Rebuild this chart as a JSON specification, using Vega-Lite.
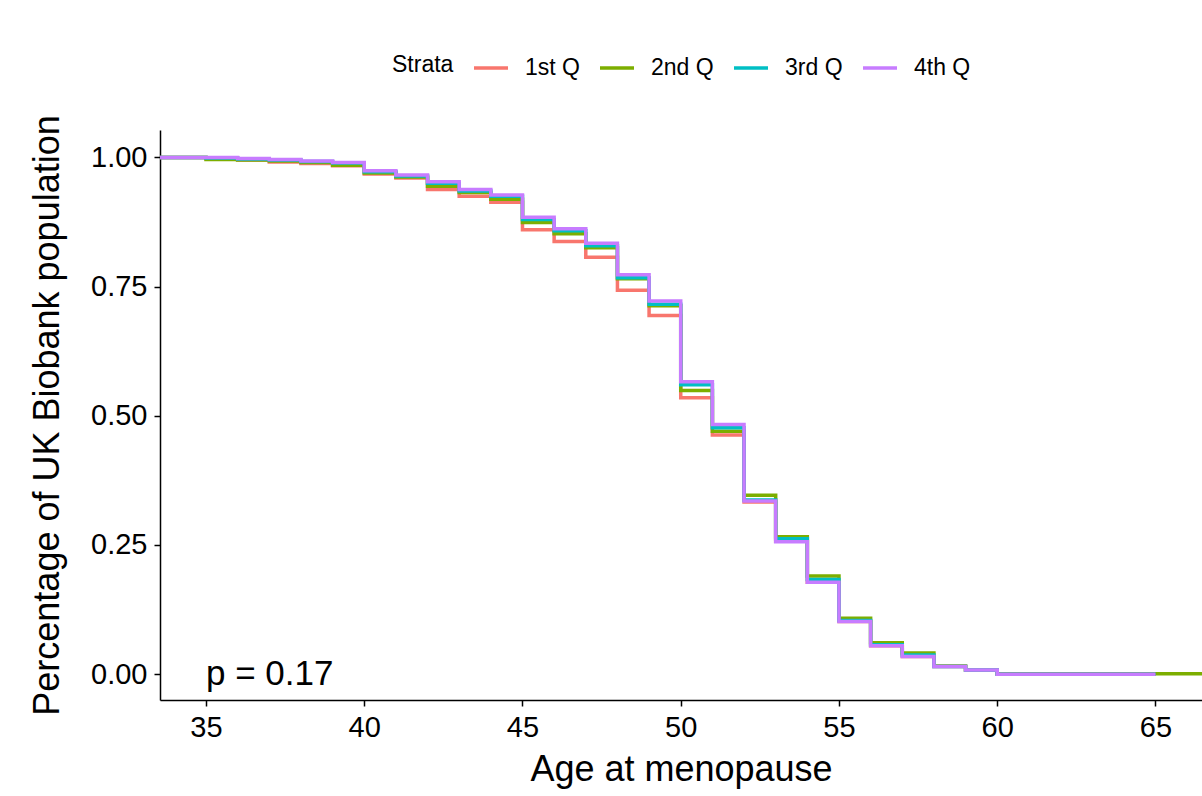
{
  "$schema": "https://vega.github.io/schema/vega-lite/v6.json",
  "width": 1042,
  "height": 570,
  "autosize": {"type": "none"},
  "padding": {"left": 160, "top": 130, "right": 0, "bottom": 96},
  "background": "white",
  "config": {
    "view": {"stroke": null},
    "font": "Liberation Sans",
    "axis": {
      "grid": false,
      "domainColor": "#000000",
      "domainWidth": 1.5,
      "tickColor": "#000000",
      "tickWidth": 1.5,
      "tickSize": 6,
      "labelColor": "#000000",
      "labelFont": "Liberation Sans",
      "labelFontSize": 29,
      "labelPadding": 7,
      "titleFont": "Liberation Sans",
      "titleFontSize": 36,
      "titleFontWeight": "normal",
      "titleColor": "#000000"
    }
  },
  "datasets": {
    "km": [
      {"age": 30, "surv": 1.0, "strata": "1st Q"},
      {"age": 35, "surv": 0.998, "strata": "1st Q"},
      {"age": 36, "surv": 0.995, "strata": "1st Q"},
      {"age": 37, "surv": 0.991, "strata": "1st Q"},
      {"age": 38, "surv": 0.988, "strata": "1st Q"},
      {"age": 39, "surv": 0.984, "strata": "1st Q"},
      {"age": 40, "surv": 0.968, "strata": "1st Q"},
      {"age": 41, "surv": 0.960, "strata": "1st Q"},
      {"age": 42, "surv": 0.938, "strata": "1st Q"},
      {"age": 43, "surv": 0.925, "strata": "1st Q"},
      {"age": 44, "surv": 0.913, "strata": "1st Q"},
      {"age": 45, "surv": 0.860, "strata": "1st Q"},
      {"age": 46, "surv": 0.837, "strata": "1st Q"},
      {"age": 47, "surv": 0.807, "strata": "1st Q"},
      {"age": 48, "surv": 0.743, "strata": "1st Q"},
      {"age": 49, "surv": 0.694, "strata": "1st Q"},
      {"age": 50, "surv": 0.535, "strata": "1st Q"},
      {"age": 51, "surv": 0.463, "strata": "1st Q"},
      {"age": 52, "surv": 0.333, "strata": "1st Q"},
      {"age": 53, "surv": 0.257, "strata": "1st Q"},
      {"age": 54, "surv": 0.178, "strata": "1st Q"},
      {"age": 55, "surv": 0.102, "strata": "1st Q"},
      {"age": 56, "surv": 0.055, "strata": "1st Q"},
      {"age": 57, "surv": 0.034, "strata": "1st Q"},
      {"age": 58, "surv": 0.015, "strata": "1st Q"},
      {"age": 59, "surv": 0.008, "strata": "1st Q"},
      {"age": 60, "surv": 0.0, "strata": "1st Q"},
      {"age": 65, "surv": 0.0, "strata": "1st Q"},
      {"age": 30, "surv": 1.0, "strata": "2nd Q"},
      {"age": 35, "surv": 0.996, "strata": "2nd Q"},
      {"age": 36, "surv": 0.995, "strata": "2nd Q"},
      {"age": 37, "surv": 0.993, "strata": "2nd Q"},
      {"age": 38, "surv": 0.990, "strata": "2nd Q"},
      {"age": 39, "surv": 0.985, "strata": "2nd Q"},
      {"age": 40, "surv": 0.970, "strata": "2nd Q"},
      {"age": 41, "surv": 0.962, "strata": "2nd Q"},
      {"age": 42, "surv": 0.944, "strata": "2nd Q"},
      {"age": 43, "surv": 0.932, "strata": "2nd Q"},
      {"age": 44, "surv": 0.919, "strata": "2nd Q"},
      {"age": 45, "surv": 0.874, "strata": "2nd Q"},
      {"age": 46, "surv": 0.852, "strata": "2nd Q"},
      {"age": 47, "surv": 0.825, "strata": "2nd Q"},
      {"age": 48, "surv": 0.765, "strata": "2nd Q"},
      {"age": 49, "surv": 0.713, "strata": "2nd Q"},
      {"age": 50, "surv": 0.549, "strata": "2nd Q"},
      {"age": 51, "surv": 0.470, "strata": "2nd Q"},
      {"age": 52, "surv": 0.346, "strata": "2nd Q"},
      {"age": 53, "surv": 0.266, "strata": "2nd Q"},
      {"age": 54, "surv": 0.190, "strata": "2nd Q"},
      {"age": 55, "surv": 0.108, "strata": "2nd Q"},
      {"age": 56, "surv": 0.061, "strata": "2nd Q"},
      {"age": 57, "surv": 0.041, "strata": "2nd Q"},
      {"age": 58, "surv": 0.016, "strata": "2nd Q"},
      {"age": 59, "surv": 0.008, "strata": "2nd Q"},
      {"age": 60, "surv": 0.001, "strata": "2nd Q"},
      {"age": 65, "surv": 0.001, "strata": "2nd Q"},
      {"age": 70, "surv": 0.001, "strata": "2nd Q"},
      {"age": 30, "surv": 1.0, "strata": "3rd Q"},
      {"age": 35, "surv": 0.999, "strata": "3rd Q"},
      {"age": 36, "surv": 0.997, "strata": "3rd Q"},
      {"age": 37, "surv": 0.995, "strata": "3rd Q"},
      {"age": 38, "surv": 0.992, "strata": "3rd Q"},
      {"age": 39, "surv": 0.989, "strata": "3rd Q"},
      {"age": 40, "surv": 0.972, "strata": "3rd Q"},
      {"age": 41, "surv": 0.964, "strata": "3rd Q"},
      {"age": 42, "surv": 0.950, "strata": "3rd Q"},
      {"age": 43, "surv": 0.935, "strata": "3rd Q"},
      {"age": 44, "surv": 0.925, "strata": "3rd Q"},
      {"age": 45, "surv": 0.880, "strata": "3rd Q"},
      {"age": 46, "surv": 0.858, "strata": "3rd Q"},
      {"age": 47, "surv": 0.829, "strata": "3rd Q"},
      {"age": 48, "surv": 0.767, "strata": "3rd Q"},
      {"age": 49, "surv": 0.716, "strata": "3rd Q"},
      {"age": 50, "surv": 0.560, "strata": "3rd Q"},
      {"age": 51, "surv": 0.477, "strata": "3rd Q"},
      {"age": 52, "surv": 0.337, "strata": "3rd Q"},
      {"age": 53, "surv": 0.262, "strata": "3rd Q"},
      {"age": 54, "surv": 0.183, "strata": "3rd Q"},
      {"age": 55, "surv": 0.104, "strata": "3rd Q"},
      {"age": 56, "surv": 0.057, "strata": "3rd Q"},
      {"age": 57, "surv": 0.037, "strata": "3rd Q"},
      {"age": 58, "surv": 0.015, "strata": "3rd Q"},
      {"age": 59, "surv": 0.008, "strata": "3rd Q"},
      {"age": 60, "surv": 0.0, "strata": "3rd Q"},
      {"age": 65, "surv": 0.0, "strata": "3rd Q"},
      {"age": 30, "surv": 1.0, "strata": "4th Q"},
      {"age": 36, "surv": 0.998, "strata": "4th Q"},
      {"age": 37, "surv": 0.996, "strata": "4th Q"},
      {"age": 38, "surv": 0.993, "strata": "4th Q"},
      {"age": 39, "surv": 0.990, "strata": "4th Q"},
      {"age": 40, "surv": 0.974, "strata": "4th Q"},
      {"age": 41, "surv": 0.966, "strata": "4th Q"},
      {"age": 42, "surv": 0.953, "strata": "4th Q"},
      {"age": 43, "surv": 0.938, "strata": "4th Q"},
      {"age": 44, "surv": 0.927, "strata": "4th Q"},
      {"age": 45, "surv": 0.884, "strata": "4th Q"},
      {"age": 46, "surv": 0.862, "strata": "4th Q"},
      {"age": 47, "surv": 0.834, "strata": "4th Q"},
      {"age": 48, "surv": 0.773, "strata": "4th Q"},
      {"age": 49, "surv": 0.722, "strata": "4th Q"},
      {"age": 50, "surv": 0.566, "strata": "4th Q"},
      {"age": 51, "surv": 0.483, "strata": "4th Q"},
      {"age": 52, "surv": 0.335, "strata": "4th Q"},
      {"age": 53, "surv": 0.256, "strata": "4th Q"},
      {"age": 54, "surv": 0.178, "strata": "4th Q"},
      {"age": 55, "surv": 0.102, "strata": "4th Q"},
      {"age": 56, "surv": 0.055, "strata": "4th Q"},
      {"age": 57, "surv": 0.034, "strata": "4th Q"},
      {"age": 58, "surv": 0.015, "strata": "4th Q"},
      {"age": 59, "surv": 0.008, "strata": "4th Q"},
      {"age": 60, "surv": 0.0, "strata": "4th Q"},
      {"age": 65, "surv": 0.0, "strata": "4th Q"}
    ],
    "pv": [
      {"age": 35, "surv": 0.0, "label": "p = 0.17"}
    ]
  },
  "layer": [
    {
      "data": {"name": "km"},
      "mark": {"type": "line", "interpolate": "step-after", "strokeWidth": 3.5, "clip": true},
      "encoding": {
        "x": {
          "field": "age", "type": "quantitative",
          "scale": {"domain": [33.547, 66.47], "nice": false, "zero": false},
          "axis": {"values": [35, 40, 45, 50, 55, 60, 65], "title": "Age at menopause", "titlePadding": 10}
        },
        "y": {
          "field": "surv", "type": "quantitative",
          "scale": {"domain": [-0.05, 1.053], "nice": false, "zero": false},
          "axis": {"values": [0, 0.25, 0.5, 0.75, 1], "format": ".2f", "title": "Percentage of UK Biobank population", "titlePadding": 24}
        },
        "color": {
          "field": "strata", "type": "nominal",
          "scale": {"domain": ["1st Q", "2nd Q", "3rd Q", "4th Q"], "range": ["#F8766D", "#7CAE00", "#00BFC4", "#C77CFF"]},
          "legend": {
            "orient": "none", "legendX": 232, "legendY": -81,
            "direction": "horizontal", "title": "Strata", "titleOrient": "left",
            "titleBaseline": "middle",
            "titleFontSize": 23, "titleFontWeight": "normal", "titleColor": "#000000", "titleFont": "Liberation Sans",
            "labelFontSize": 23, "labelColor": "#000000", "labelFont": "Liberation Sans",
            "symbolType": "stroke", "symbolSize": 1156, "symbolStrokeWidth": 3.5,
            "labelOffset": 15, "columnPadding": 13, "titlePadding": 18
          }
        }
      }
    },
    {
      "data": {"name": "pv"},
      "mark": {"type": "text", "align": "left", "baseline": "middle", "fontSize": 35, "font": "Liberation Sans", "color": "#000000"},
      "encoding": {
        "x": {"field": "age", "type": "quantitative"},
        "y": {"field": "surv", "type": "quantitative"},
        "text": {"field": "label"}
      }
    }
  ]
}
